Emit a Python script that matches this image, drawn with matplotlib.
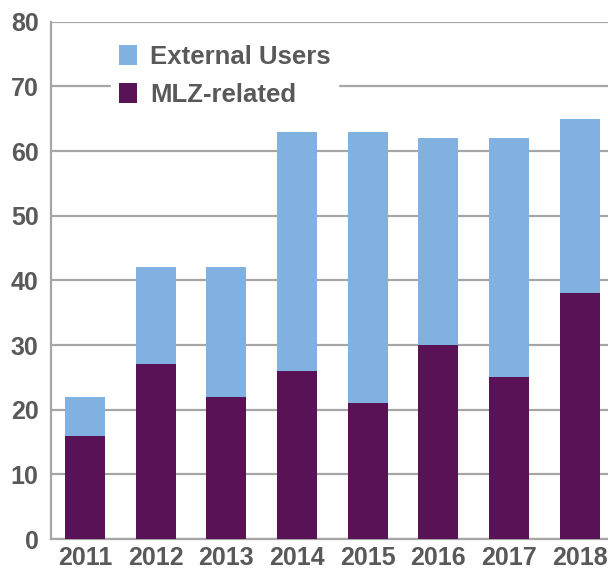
import matplotlib
matplotlib.use("Agg")
import matplotlib.pyplot as plt
import numpy as np

plt.rcParams["font.family"] = ["Liberation Sans", "DejaVu Sans"]

# Publications per year, split by origin
years = ["2011", "2012", "2013", "2014", "2015", "2016", "2017", "2018"]
mlz_related = [16, 27, 22, 26, 21, 30, 25, 38]
total = [22, 42, 42, 63, 63, 62, 62, 65]
external = [t - m for t, m in zip(total, mlz_related)]

purple = "#5A1257"
blue = "#80B1E1"
gray_text = "#595959"
grid_gray = "#A6A6A6"

fig = plt.figure(figsize=(6.08, 5.71), dpi=100)
ax = fig.add_axes([0.084, 0.056, 0.916, 0.906])

x = np.arange(len(years))
w = 0.566
ax.bar(x, mlz_related, width=w, color=purple, label="MLZ-related", zorder=3)
ax.bar(x, external, width=w, bottom=mlz_related, color=blue,
       label="External Users", zorder=3)

ax.set_xlim(-0.48, 7.4)
ax.set_ylim(0, 80)
ax.set_yticks(range(0, 81, 10))
ax.set_xticks(x)
ax.set_xticklabels(years)

ax.yaxis.grid(True, color=grid_gray, linewidth=1.6, zorder=0)
ax.set_axisbelow(True)
for s in ["top", "right"]:
    ax.spines[s].set_visible(False)
for s in ["left", "bottom"]:
    ax.spines[s].set_color(grid_gray)
    ax.spines[s].set_linewidth(1.6)

ax.tick_params(axis="both", length=0, labelsize=18, labelcolor=gray_text)
ax.tick_params(axis="y", pad=9)
ax.tick_params(axis="x", pad=5)
for lbl in ax.get_xticklabels() + ax.get_yticklabels():
    lbl.set_fontweight("bold")

handles, labels = ax.get_legend_handles_labels()
leg = ax.legend(handles[::-1], labels[::-1], loc="upper left",
                bbox_to_anchor=(0.085, 0.995), frameon=True,
                fancybox=False, edgecolor="white", facecolor="white",
                framealpha=1, prop={"weight": "bold", "size": 18.5},
                handlelength=0.7, handleheight=0.8, handletextpad=0.5,
                labelspacing=0.55, borderpad=0.3)
for t in leg.get_texts():
    t.set_color(gray_text)
leg.set_zorder(5)

fig.savefig("out.png", dpi=100)
